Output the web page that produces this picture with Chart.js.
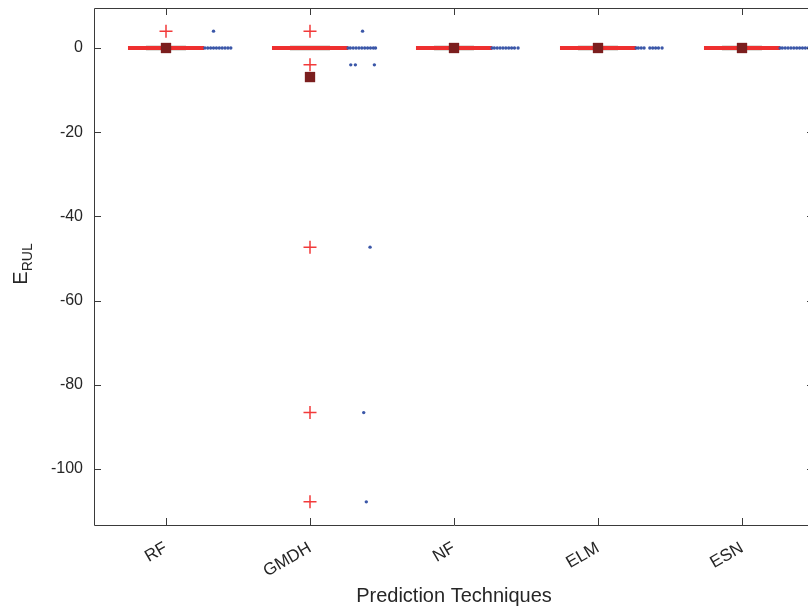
<!DOCTYPE html>
<html>
<head>
<meta charset="utf-8">
<script src="https://cdn.jsdelivr.net/npm/chart.js@4/dist/chart.umd.min.js"></script>
<style>
  html, body { margin: 0; padding: 0; background: #fff; overflow: hidden; }
  #wrap { width: 830px; height: 610px; }
</style>
</head>
<body>
<div id="wrap"><canvas id="chart" width="830" height="610"></canvas></div>
<script>
// categories and tick labels
const categories = ["RF", "GMDH", "NF", "ELM", "ESN"];
const yTicks = [-100, -80, -60, -40, -20, 0];

// box summaries (all boxes collapse onto 0)
const medians = [0, 0, 0, 0, 0];
const means = [0, -6.9, 0, 0, 0];

// outliers (red +)
const rfOutliers = [4];
const gmdhOutliers = [4, -4, -47.3, -86.6, -107.8];
const nfOutliers = [];
const elmOutliers = [];
const esnOutliers = [];

// raw points (blue dots), offset to the right of each box
const rfDotX = [0.27, 0.29, 0.31, 0.33, 0.35, 0.37, 0.39, 0.41, 0.43, 0.45, 0.33];
const rfDotY = [0, 0, 0, 0, 0, 0, 0, 0, 0, 0, 4];
const gmdhDotX = [0.265, 0.28, 0.30, 0.32, 0.34, 0.36, 0.38, 0.40, 0.42, 0.44, 0.455, 0.365, 0.283, 0.315, 0.447, 0.417, 0.373, 0.391];
const gmdhDotY = [0, 0, 0, 0, 0, 0, 0, 0, 0, 0, 0, 4, -4, -4, -4, -47.3, -86.6, -107.8];
const nfDotX = [0.265, 0.28, 0.30, 0.32, 0.34, 0.36, 0.38, 0.40, 0.42, 0.445];
const nfDotY = [0, 0, 0, 0, 0, 0, 0, 0, 0, 0];
const elmDotX = [0.265, 0.28, 0.30, 0.32, 0.36, 0.38, 0.40, 0.42, 0.445];
const elmDotY = [0, 0, 0, 0, 0, 0, 0, 0, 0];
const esnDotX = [0.265, 0.28, 0.30, 0.32, 0.34, 0.36, 0.38, 0.40, 0.42, 0.44, 0.46];
const esnDotY = [0, 0, 0, 0, 0, 0, 0, 0, 0, 0, 0];

const boxHalf = 0.264;
const innerHalf = 0.139;

function segs(half, vals) {
  const pts = [];
  vals.forEach((v, i) => {
    pts.push({ x: i + 1 - half, y: v }, { x: i + 1 + half, y: v }, { x: i + 1, y: null });
  });
  return pts;
}

const outlierPts = [rfOutliers, gmdhOutliers, nfOutliers, elmOutliers, esnOutliers]
  .flatMap((arr, i) => arr.map((v) => ({ x: i + 1, y: v })));

const dotPts = [[rfDotX, rfDotY], [gmdhDotX, gmdhDotY], [nfDotX, nfDotY], [elmDotX, elmDotY], [esnDotX, esnDotY]]
  .flatMap(([xs, ys], i) => xs.map((dx, k) => ({ x: i + 1 + dx, y: ys[k] })));

const axisColor = "#262626";
const font = "'Liberation Sans', Arial, Helvetica, sans-serif";

// draws the axes box, inward ticks and axis titles
const frame = {
  id: "frame",
  afterDraw(chart) {
    const { ctx, chartArea: a, scales } = chart;
    ctx.save();
    ctx.strokeStyle = "#3a3a3a";
    ctx.lineWidth = 1;
    ctx.beginPath();
    ctx.rect(Math.round(a.left) + 0.5, Math.round(a.top) + 0.5, Math.round(a.right - a.left), Math.round(a.bottom - a.top));
    const len = 7;
    scales.x.ticks.forEach((t) => {
      const px = Math.round(scales.x.getPixelForValue(t.value)) + 0.5;
      ctx.moveTo(px, a.bottom); ctx.lineTo(px, a.bottom - len);
      ctx.moveTo(px, a.top); ctx.lineTo(px, a.top + len);
    });
    scales.y.ticks.forEach((t) => {
      const py = Math.round(scales.y.getPixelForValue(t.value)) + 0.5;
      ctx.moveTo(a.left, py); ctx.lineTo(a.left + len, py);
      ctx.moveTo(a.right, py); ctx.lineTo(a.right - len, py);
    });
    ctx.stroke();

    ctx.fillStyle = axisColor;
    ctx.font = "20px " + font;
    ctx.textAlign = "center";
    ctx.textBaseline = "middle";
    ctx.fillText("Prediction Techniques", (a.left + 808) / 2 + 3, 596);

    // E with subscript RUL, rotated
    ctx.translate(20, 264);
    ctx.rotate(-Math.PI / 2);
    ctx.textAlign = "left";
    ctx.textBaseline = "alphabetic";
    ctx.font = "20px " + font;
    const wE = ctx.measureText("E").width;
    ctx.font = "14px " + font;
    const wS = ctx.measureText("RUL").width;
    const x0 = -(wE + wS) / 2;
    ctx.font = "20px " + font;
    ctx.fillText("E", x0, 7);
    ctx.font = "14px " + font;
    ctx.fillText("RUL", x0 + wE, 12);
    ctx.restore();
  }
};

new Chart(document.getElementById("chart"), {
  type: "scatter",
  data: {
    datasets: [
      {
        type: "line", data: segs(innerHalf, medians), borderColor: "rgba(175,175,165,0.4)",
        borderWidth: 6, pointRadius: 0, spanGaps: false, order: 5
      },
      {
        type: "line", data: segs(boxHalf, medians), borderColor: "#ee2f2f",
        borderWidth: 4, pointRadius: 0, spanGaps: false, order: 4
      },
      {
        data: dotPts, pointStyle: "circle", pointRadius: 1.7, backgroundColor: "#3b57a8",
        borderColor: "#3b57a8", borderWidth: 0, order: 3
      },
      {
        data: outlierPts, pointStyle: "cross", pointRadius: 6.5, borderColor: "#f23a3a",
        borderWidth: 1.5, order: 2
      },
      {
        data: means.map((v, i) => ({ x: i + 1, y: v })), pointStyle: "rect", pointRadius: 7.3,
        backgroundColor: "#7b1e1e", borderColor: "#7b1e1e", borderWidth: 0, order: 1
      }
    ]
  },
  options: {
    responsive: false,
    animation: false,
    events: [],
    layout: { padding: { top: 8, right: 16, left: 0, bottom: 0 } },
    plugins: { legend: { display: false }, tooltip: { enabled: false } },
    scales: {
      x: {
        type: "linear", min: 0.5, max: 5.5,
        grid: { display: false, drawTicks: false },
        border: { display: false },
        afterBuildTicks: (s) => { s.ticks = categories.map((c, i) => ({ value: i + 1 })); },
        afterFit: (s) => { s.height = 85; s.paddingLeft = 0; s.paddingRight = 0; },
        ticks: {
          callback: (v) => categories[v - 1],
          minRotation: 30, maxRotation: 30, padding: 13,
          color: axisColor, font: { family: font, size: 17 }
        }
      },
      y: {
        min: -113.3, max: 9.5,
        grid: { display: false, drawTicks: false },
        border: { display: false },
        afterBuildTicks: (s) => { s.ticks = yTicks.map((v) => ({ value: v })); },
        afterFit: (s) => { s.width = 94; s.paddingTop = 0; s.paddingBottom = 0; },
        ticks: { padding: 11, color: axisColor, font: { family: font, size: 16 } }
      }
    }
  },
  plugins: [frame]
});
</script>
</body>
</html>
